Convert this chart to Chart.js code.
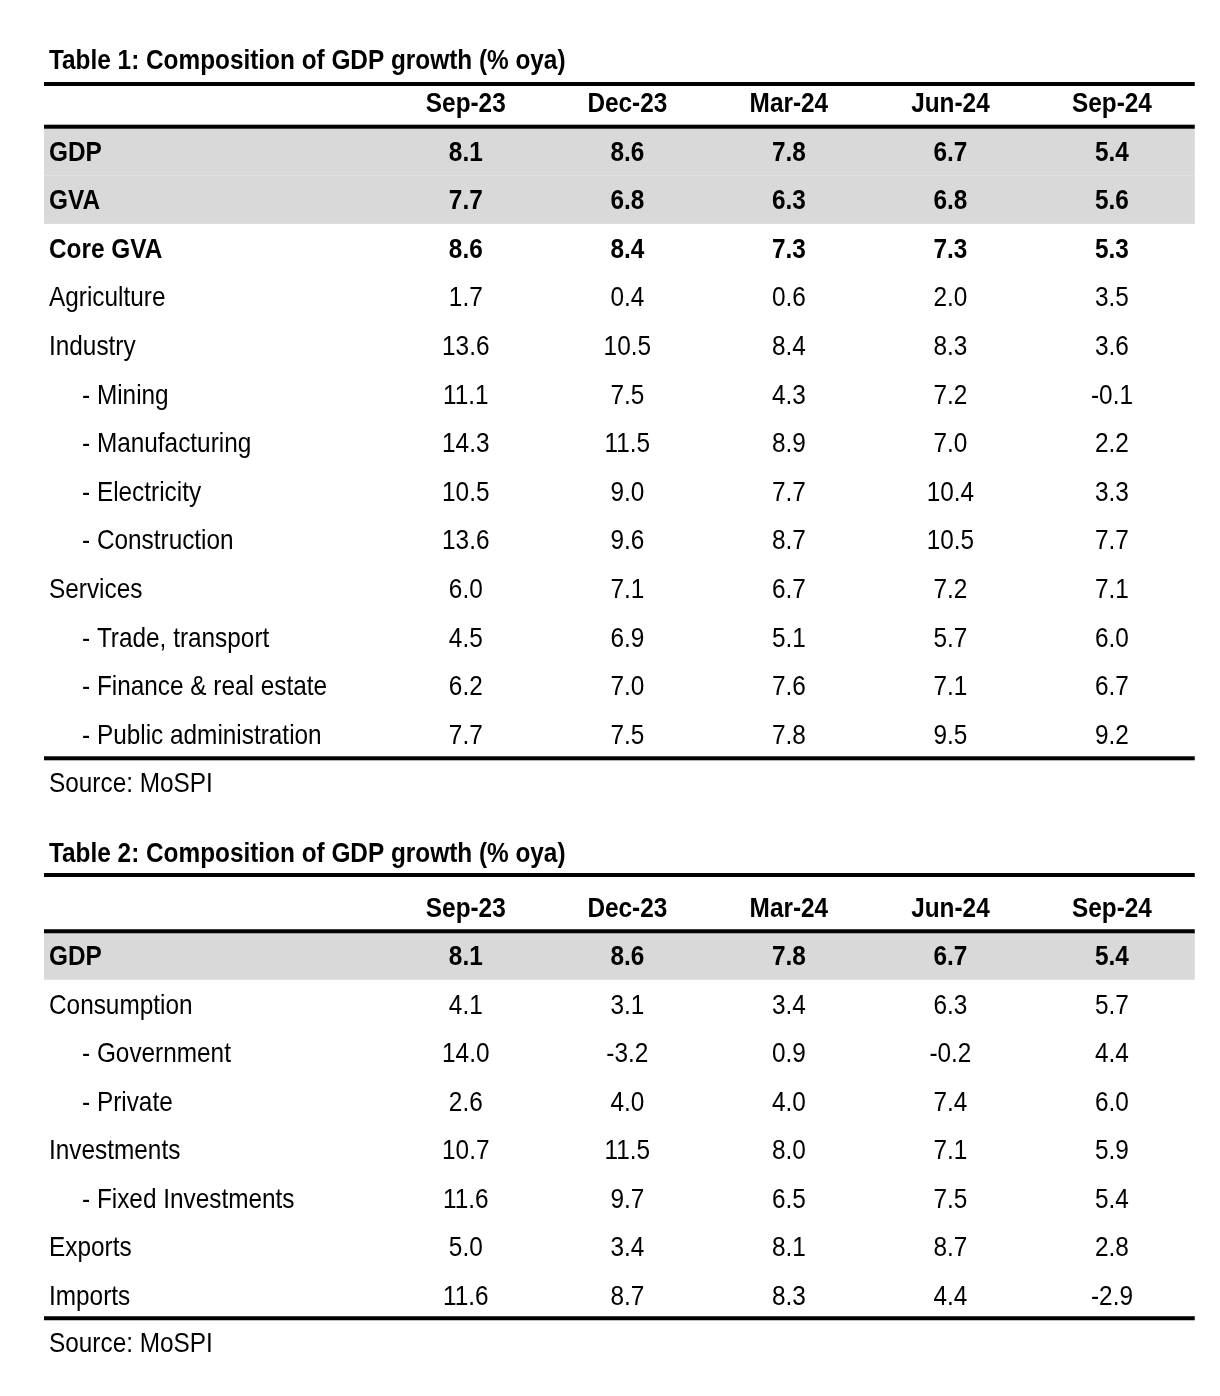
<!DOCTYPE html>
<html><head><meta charset="utf-8">
<script src="https://cdn.jsdelivr.net/npm/chart.js@4.4.1/dist/chart.umd.min.js"></script>
<style>
html,body{margin:0;padding:0;background:#fff;width:1220px;height:1396px;overflow:hidden;}
.wrap{position:absolute;left:0;width:1220px;}
</style></head><body>
<div class="wrap" style="top:0;height:800px"><canvas id="t1"></canvas></div>
<div class="wrap" style="top:800px;height:596px"><canvas id="t2"></canvas></div>
<script>
// ---------- DATA ----------
const periods = ['Sep-23', 'Dec-23', 'Mar-24', 'Jun-24', 'Sep-24'];

const t1Title = 'Table 1: Composition of GDP growth (% oya)';
const t1Rows = ['GDP', 'GVA', 'Core GVA', 'Agriculture', 'Industry', '- Mining', '- Manufacturing',
  '- Electricity', '- Construction', 'Services', '- Trade, transport', '- Finance & real estate',
  '- Public administration'];
const t1_gdp = [8.1, 8.6, 7.8, 6.7, 5.4];
const t1_gva = [7.7, 6.8, 6.3, 6.8, 5.6];
const t1_coreGva = [8.6, 8.4, 7.3, 7.3, 5.3];
const t1_agriculture = [1.7, 0.4, 0.6, 2.0, 3.5];
const t1_industry = [13.6, 10.5, 8.4, 8.3, 3.6];
const t1_mining = [11.1, 7.5, 4.3, 7.2, -0.1];
const t1_manufacturing = [14.3, 11.5, 8.9, 7.0, 2.2];
const t1_electricity = [10.5, 9.0, 7.7, 10.4, 3.3];
const t1_construction = [13.6, 9.6, 8.7, 10.5, 7.7];
const t1_services = [6.0, 7.1, 6.7, 7.2, 7.1];
const t1_trade = [4.5, 6.9, 5.1, 5.7, 6.0];
const t1_finance = [6.2, 7.0, 7.6, 7.1, 6.7];
const t1_publicAdmin = [7.7, 7.5, 7.8, 9.5, 9.2];
const t1Source = 'Source: MoSPI';

const t2Title = 'Table 2: Composition of GDP growth (% oya)';
const t2Rows = ['GDP', 'Consumption', '- Government', '- Private', 'Investments', '- Fixed Investments',
  'Exports', 'Imports'];
const t2_gdp = [8.1, 8.6, 7.8, 6.7, 5.4];
const t2_consumption = [4.1, 3.1, 3.4, 6.3, 5.7];
const t2_government = [14.0, -3.2, 0.9, -0.2, 4.4];
const t2_private = [2.6, 4.0, 4.0, 7.4, 6.0];
const t2_investments = [10.7, 11.5, 8.0, 7.1, 5.9];
const t2_fixedInvestments = [11.6, 9.7, 6.5, 7.5, 5.4];
const t2_exports = [5.0, 3.4, 8.1, 8.7, 2.8];
const t2_imports = [11.6, 8.7, 8.3, 4.4, -2.9];
const t2Source = 'Source: MoSPI';

// ---------- STYLE ----------
const t1Indent = [0,0,0,0,0,1,1,1,1,0,1,1,1];
const t1Bold = [1,1,1,0,0,0,0,0,0,0,0,0,0];
const t1Shade = [1,1,0,0,0,0,0,0,0,0,0,0,0];
const t2Indent = [0,0,1,1,0,1,0,0];
const t2Bold = [1,0,0,0,0,0,0,0];
const t2Shade = [1,0,0,0,0,0,0,0];

function hasFont(name) {
  const c = document.createElement('canvas').getContext('2d');
  const s = 'abcdefghijklmnopqrstuvwxyzABCDEFGHIJ0123456789';
  c.font = '40px monospace'; const a = c.measureText(s).width;
  c.font = '40px "' + name + '", monospace'; const b = c.measureText(s).width;
  return Math.abs(a - b) > 0.5;
}
const NARROW = hasFont('Liberation Sans Narrow');
const FAMILY = NARROW ? '"Liberation Sans Narrow"' : '"Liberation Sans", Arial, sans-serif';
const SX = NARROW ? 1.06 : 0.87;
const FS = 28;
const DY = 2;

function drawText(ctx, text, x, y, bold, align) {
  ctx.save();
  ctx.font = (bold ? 'bold ' : '') + FS + 'px ' + FAMILY;
  ctx.textBaseline = 'middle';
  ctx.fillStyle = '#000';
  ctx.textAlign = align;
  ctx.translate(x, y + DY);
  ctx.scale(SX, 1);
  ctx.fillText(text, 0, 0);
  ctx.restore();
}

const tablePlugin = {
  id: 'tableDraw',
  beforeDatasetsDraw(chart, args, o) {
    const ctx = chart.ctx, y = chart.scales.y, x = chart.scales.x;
    const band = y.height / o.rows.length;
    const L = y.left - 5, R = x.right + 2;
    ctx.save();
    ctx.fillStyle = '#d9d9d9';
    o.shade.forEach((s, i) => {
      if (!s) return;
      const c = y.getPixelForValue(i);
      ctx.fillRect(L, c - band / 2, R - L, band);
    });
    ctx.restore();
  },
  afterDatasetsDraw(chart, args, o) {
    const ctx = chart.ctx, y = chart.scales.y, x = chart.scales.x;
    const top = y.top, bottom = y.bottom;
    const L = y.left - 5, R = x.right + 2;
    // rules
    ctx.save();
    ctx.fillStyle = '#000';
    ctx.fillRect(L, top - o.topRuleGap - 2, R - L, 4);
    ctx.fillRect(L, top - 2, R - L, 4);
    ctx.fillRect(L, bottom - 2 + o.bottomShift, R - L, 4);
    ctx.restore();
    // title, source
    drawText(ctx, o.title, y.left, top - o.titleGap, true, 'left');
    drawText(ctx, o.source, y.left, bottom + o.sourceGap, false, 'left');
    // header
    o.periods.forEach((p, j) => drawText(ctx, p, x.getPixelForValue(j), top - o.headerGap, true, 'center'));
    // row labels
    o.rows.forEach((r, i) => drawText(ctx, r, y.left + o.indent[i] * 33, y.getPixelForValue(i), !!o.bold[i], 'left'));
    // cells
    const meta = chart.getDatasetMeta(0);
    meta.data.forEach((el, k) => {
      const d = chart.data.datasets[0].data[k];
      drawText(ctx, d.v.toFixed(1), el.x, el.y, !!o.bold[d.r], 'center');
    });
  }
};

function makeTable(id, title, rows, series, source, indent, bold, shade, pad, gaps) {
  const data = [];
  rows.forEach((r, i) => series[i].forEach((v, j) => data.push({ x: periods[j], y: r, v: v, r: i })));
  return new Chart(document.getElementById(id), {
    type: 'scatter',
    data: { datasets: [{ data: data, pointRadius: 0, pointHoverRadius: 0, showLine: false }] },
    options: {
      responsive: true, maintainAspectRatio: false, animation: false,
      events: [],
      layout: { padding: pad },
      plugins: {
        legend: { display: false }, tooltip: { enabled: false },
        tableDraw: Object.assign({ title, rows, source, indent, bold, shade, periods }, gaps)
      },
      scales: {
        x: { type: 'category', labels: periods, offset: true, display: false },
        y: {
          type: 'category', labels: rows, offset: true, display: true,
          grid: { display: false }, border: { display: false }, ticks: { display: false },
          afterFit(s) { s.width = 336; }
        }
      }
    },
    plugins: [tablePlugin]
  });
}

makeTable('t1', t1Title, t1Rows,
  [t1_gdp, t1_gva, t1_coreGva, t1_agriculture, t1_industry, t1_mining, t1_manufacturing,
   t1_electricity, t1_construction, t1_services, t1_trade, t1_finance, t1_publicAdmin],
  t1Source, t1Indent, t1Bold, t1Shade,
  { top: 126.7, bottom: 41.7, left: 49, right: 27.25 },
  { titleGap: 67.4, topRuleGap: 42.7, headerGap: 24.5, sourceGap: 24, bottomShift: 0 });

makeTable('t2', t2Title, t2Rows,
  [t2_gdp, t2_consumption, t2_government, t2_private, t2_investments, t2_fixedInvestments,
   t2_exports, t2_imports],
  t2Source, t2Indent, t2Bold, t2Shade,
  { top: 131.25, bottom: 76.75, left: 49, right: 27.25 },
  { titleGap: 79, topRuleGap: 56.25, headerGap: 24.25, sourceGap: 23, bottomShift: -1 });
</script>
</body></html>
